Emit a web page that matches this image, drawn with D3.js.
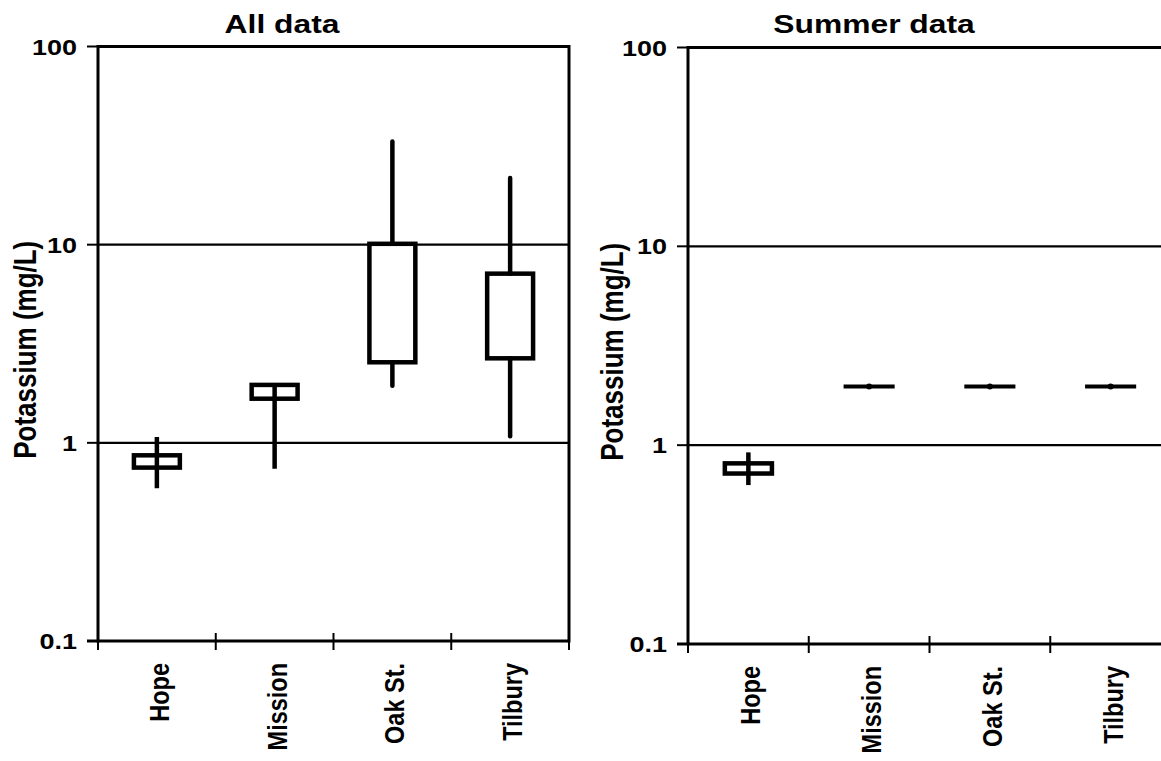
<!DOCTYPE html>
<html>
<head>
<meta charset="utf-8">
<script src="https://cdn.jsdelivr.net/npm/d3@7/dist/d3.min.js"></script>
<style>
  html, body { margin: 0; padding: 0; background: #fff; }
  svg { display: block; }
  text { font-family: "Liberation Sans", Arial, Helvetica, sans-serif; font-weight: bold; fill: #000; }
</style>
</head>
<body>
<svg id="chart" width="1161" height="761"></svg>
<script>
// Potassium concentrations (mg/L) by sampling site: box = quartiles, whiskers = min/max
const sites = ["Hope", "Mission", "Oak St.", "Tilbury"];

const allMin = [0.59, 0.74, 1.94, 1.08];
const allQ1  = [0.75, 1.67, 2.55, 2.67];
const allQ3  = [0.865, 1.96, 10.1, 7.14];
const allMax = [1.07, 1.96, 33.2, 21.7];

const summerMin = [0.63, 1.97, 1.97, 1.97];
const summerQ1  = [0.72, 1.97, 1.97, 1.97];
const summerQ3  = [0.81, 1.97, 1.97, 1.97];
const summerMax = [0.92, 1.97, 1.97, 1.97];

const yTicks = [0.1, 1, 10, 100];
const yTickLabels = ["0.1", "1", "10", "100"];

const titles = ["All data", "Summer data"];
const yTitle = "Potassium (mg/L)";

const svg = d3.select("#chart");
const SX = 1.2; // horizontal text stretch

const panels = [
  { title: titles[0], min: allMin, q1: allQ1, q3: allQ3, max: allMax,
    x0: 98, x1: 569, y0: 641, y1: 46.5, titleX: 282, yTitleX: 36, rightBorder: true },
  { title: titles[1], min: summerMin, q1: summerQ1, q3: summerQ3, max: summerMax,
    x0: 688, x1: 1171, y0: 644, y1: 47.5, titleX: 874, yTitleX: 623, rightBorder: false }
];

panels.forEach(p => {
  const g = svg.append("g");
  const x = d3.scaleBand().domain(sites).range([p.x0, p.x1]);
  const y = d3.scaleLog().domain([0.1, 100]).range([p.y0, p.y1]);

  // horizontal gridlines at decades (top one is the frame)
  g.selectAll("line.grid").data(yTicks.slice(1)).join("line")
    .attr("class", "grid")
    .attr("x1", p.x0).attr("x2", p.x1)
    .attr("y1", d => y(d)).attr("y2", d => y(d))
    .attr("stroke", "#000")
    .attr("stroke-width", d => d === 100 ? 3 : 2.2);

  // y axis: line, ticks, labels
  g.append("line").attr("x1", p.x0).attr("x2", p.x0)
    .attr("y1", y(100) - 1.5).attr("y2", y(0.1) + 1.5)
    .attr("stroke", "#000").attr("stroke-width", 3);
  g.selectAll("line.ytick").data(yTicks).join("line")
    .attr("class", "ytick")
    .attr("x1", p.x0 - 11).attr("x2", p.x0)
    .attr("y1", d => y(d)).attr("y2", d => y(d))
    .attr("stroke", "#000").attr("stroke-width", 2);
  g.selectAll("text.ylab").data(yTicks).join("text")
    .attr("class", "ylab")
    .attr("transform", d => `translate(${p.x0 - 21},${y(d) + 8}) scale(${SX},1)`)
    .attr("text-anchor", "end")
    .attr("font-size", 22.5)
    .text((d, i) => yTickLabels[i]);

  // right frame
  if (p.rightBorder) {
    g.append("line").attr("x1", p.x1).attr("x2", p.x1)
      .attr("y1", y(100) - 1.5).attr("y2", y(0.1) + 1.5)
      .attr("stroke", "#000").attr("stroke-width", 3);
  }

  // x axis: line, boundary ticks, rotated labels
  g.append("line").attr("x1", p.x0 - 11).attr("x2", p.x1)
    .attr("y1", y(0.1)).attr("y2", y(0.1))
    .attr("stroke", "#000").attr("stroke-width", 3);
  const bounds = sites.map(s => x(s)).concat([p.x1]);
  g.selectAll("line.xtick").data(bounds).join("line")
    .attr("class", "xtick")
    .attr("x1", d => d).attr("x2", d => d)
    .attr("y1", y(0.1) - 8).attr("y2", y(0.1) + 9)
    .attr("stroke", "#000").attr("stroke-width", 2);
  g.selectAll("text.xlab").data(sites).join("text")
    .attr("class", "xlab")
    .attr("transform", d => `translate(${x(d) + x.bandwidth() / 2 + 12},${y(0.1) + 22}) rotate(-90) scale(1,${SX})`)
    .attr("text-anchor", "end")
    .attr("font-size", 23.5)
    .text(d => d);

  // titles
  g.append("text")
    .attr("transform", `translate(${p.titleX},33) scale(${SX},1)`)
    .attr("text-anchor", "middle")
    .attr("font-size", 26.5)
    .text(p.title);
  g.append("text")
    .attr("transform", `translate(${p.yTitleX},${(y(100) + y(0.1)) / 2 + 6}) rotate(-90) scale(1,${SX})`)
    .attr("text-anchor", "middle")
    .attr("font-size", 26)
    .text(yTitle);

  // boxes and whiskers
  const bw = x.bandwidth() * 0.39;
  sites.forEach((s, i) => {
    const cx = x(s) + x.bandwidth() / 2;
    const yMin = y(p.min[i]), yQ1 = y(p.q1[i]), yQ3 = y(p.q3[i]), yMax = y(p.max[i]);
    const bh = yQ1 - yQ3;
    if (bh < 1) {
      // collapsed box: a single bar with a centre point
      g.append("line").attr("x1", cx - bw / 2 - 2).attr("x2", cx + bw / 2 + 2)
        .attr("y1", yQ3).attr("y2", yQ3)
        .attr("stroke", "#000").attr("stroke-width", 4);
      g.append("circle").attr("cx", cx).attr("cy", yQ3).attr("r", 3).attr("fill", "#000");
      return;
    }
    g.append("rect")
      .attr("x", cx - bw / 2).attr("y", yQ3)
      .attr("width", bw).attr("height", bh)
      .attr("fill", "#fff").attr("stroke", "#000").attr("stroke-width", 4.5);
    if (bh < 20) {
      g.append("line").attr("x1", cx).attr("x2", cx).attr("y1", yMax).attr("y2", yMin)
        .attr("stroke", "#000").attr("stroke-width", 4.5);
    } else {
      if (yMax < yQ3) g.append("line").attr("x1", cx).attr("x2", cx).attr("y1", yMax).attr("y2", yQ3)
        .attr("stroke", "#000").attr("stroke-width", 4.5).attr("stroke-linecap", "round");
      if (yMin > yQ1) g.append("line").attr("x1", cx).attr("x2", cx).attr("y1", yQ1).attr("y2", yMin)
        .attr("stroke", "#000").attr("stroke-width", 4.5).attr("stroke-linecap", "round");
    }
  });
});
</script>
</body>
</html>
